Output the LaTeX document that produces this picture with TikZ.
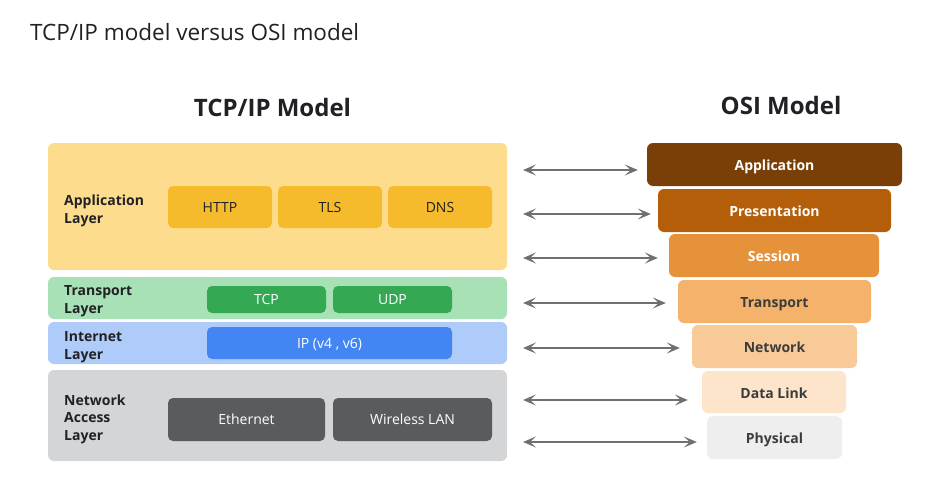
\documentclass[tikz,border=0pt]{standalone}
\usepackage{fontspec}
\setmainfont{Open Sans}
\usetikzlibrary{arrows.meta}
\definecolor{appbg}{HTML}{FDDD8D}
\definecolor{appbox}{HTML}{F6BA2D}
\definecolor{trbg}{HTML}{A9E1B7}
\definecolor{trbox}{HTML}{35A853}
\definecolor{inbg}{HTML}{AFCBF9}
\definecolor{inbox}{HTML}{4386F3}
\definecolor{nabg}{HTML}{D4D5D7}
\definecolor{nabox}{HTML}{5A5B5D}
\definecolor{osia}{HTML}{7A3F07}
\definecolor{osib}{HTML}{B45E0A}
\definecolor{osic}{HTML}{E6923A}
\definecolor{osid}{HTML}{F4B26A}
\definecolor{osie}{HTML}{F8CA98}
\definecolor{osif}{HTML}{FCE5CB}
\definecolor{osig}{HTML}{EEEEEE}
\definecolor{txt}{HTML}{202124}
\definecolor{ositxt}{HTML}{3C3C3C}
\definecolor{arrowgray}{HTML}{707070}
\begin{document}
\begin{tikzpicture}[x=1pt,y=-1pt,
  layerbox/.style={rounded corners=6pt, inner sep=0pt},
  protobox/.style={rounded corners=5pt, inner sep=0pt, text height=10pt, text depth=0pt, font=\fontsize{14}{17}\selectfont},
  laylabel/.style={anchor=west, align=left, inner sep=0pt, text=txt, font=\fontsize{14}{17.5}\selectfont\bfseries},
  osibox/.style={rounded corners=6pt, inner sep=0pt, text height=12.5pt, text depth=0pt, font=\fontsize{14}{17}\selectfont\bfseries},
  biarrow/.style={draw=arrowgray, line width=1.9pt, {Stealth[length=13pt,width=11pt,inset=6pt]}-{Stealth[length=13pt,width=11pt,inset=6pt]}, shorten >=11pt}
]
\useasboundingbox (0,0) rectangle (933,484);

% titles
\node[anchor=base west, inner sep=0pt, text=txt, font=\fontsize{22.5}{26}\selectfont] (title) at (30,41) {TCP/IP model versus OSI model};
\node[anchor=base, inner sep=0pt, text=txt, font=\fontsize{24}{28}\selectfont\bfseries] (tcphead) at (272.5,117) {TCP/IP Model};
\node[anchor=base, inner sep=0pt, text=txt, font=\fontsize{24}{28}\selectfont\bfseries] (osihead) at (781,114) {OSI Model};

% TCP/IP layers
\node[layerbox, fill=appbg, minimum width=459pt, minimum height=127pt] (app) at (277.5,206.5) {};
\node[layerbox, fill=trbg, minimum width=459pt, minimum height=42pt] (tr) at (277.5,298) {};
\node[layerbox, fill=inbg, minimum width=459pt, minimum height=42pt] (inet) at (277.5,343) {};
\node[layerbox, fill=nabg, minimum width=459pt, minimum height=91pt] (na) at (277.5,415.5) {};

\node[laylabel] (applab) at (64,211) {Application\\Layer};
\node[laylabel] (trlab) at (64,301) {Transport\\Layer};
\node[laylabel] (inlab) at (64,347) {Internet\\Layer};
\node[laylabel] (nalab) at (64,419) {Network\\Access\\Layer};

% protocols
\node[protobox, fill=appbox, text=txt, minimum width=104pt, minimum height=42pt] (http) at (220,207) {HTTP};
\node[protobox, fill=appbox, text=txt, minimum width=104pt, minimum height=42pt] (tls) at (330,207) {TLS};
\node[protobox, fill=appbox, text=txt, minimum width=104pt, minimum height=42pt] (dns) at (440,207) {DNS};
\node[protobox, fill=trbox, text=white, minimum width=119pt, minimum height=27pt] (tcp) at (266.5,299.5) {TCP};
\node[protobox, fill=trbox, text=white, minimum width=119pt, minimum height=27pt] (udp) at (392.5,299.5) {UDP};
\node[protobox, fill=inbox, text=white, minimum width=245pt, minimum height=32pt] (ip) at (329.5,343) {IP (v4 , v6)};
\node[protobox, fill=nabox, text=white, minimum width=157pt, minimum height=43pt] (eth) at (246.5,419.5) {Ethernet};
\node[protobox, fill=nabox, text=white, minimum width=159pt, minimum height=43pt] (wlan) at (412.5,419.5) {Wireless LAN};

% OSI layers
\node[osibox, fill=osia, text=white, minimum width=255pt, minimum height=43pt] (oapp) at (774.5,164.5) {Application};
\node[osibox, fill=osib, text=white, minimum width=233pt, minimum height=43pt] (opres) at (774.5,210.5) {Presentation};
\node[osibox, fill=osic, text=white, minimum width=210pt, minimum height=43pt] (osess) at (774,255.5) {Session};
\node[osibox, fill=osid, text=ositxt, minimum width=193pt, minimum height=43pt] (otr) at (774.5,301.5) {Transport};
\node[osibox, fill=osie, text=ositxt, minimum width=165pt, minimum height=43pt] (onet) at (774.5,346.5) {Network};
\node[osibox, fill=osif, text=ositxt, minimum width=144pt, minimum height=42pt] (odl) at (774,392) {Data Link};
\node[osibox, fill=osig, text=ositxt, minimum width=135pt, minimum height=43pt] (ophy) at (774.5,437.5) {Physical};

% arrows
\coordinate (a1) at (523,170);
\coordinate (a2) at (523,214);
\coordinate (a3) at (523,258);
\coordinate (a4) at (523,303);
\coordinate (a5) at (523,348);
\coordinate (a6) at (523,400);
\coordinate (a7) at (523,442);
\draw[biarrow, shorten >=9pt] (a1) -- (oapp.west |- a1);
\draw[biarrow, shorten >=7pt] (a2) -- (opres.west |- a2);
\draw[biarrow] (a3) -- (osess.west |- a3);
\draw[biarrow, shorten >=12pt] (a4) -- (otr.west |- a4);
\draw[biarrow, shorten >=12pt] (a5) -- (onet.west |- a5);
\draw[biarrow, shorten >=14pt] (a6) -- (odl.west |- a6);
\draw[biarrow, shorten >=10pt] (a7) -- (ophy.west |- a7);
\end{tikzpicture}
\end{document}
